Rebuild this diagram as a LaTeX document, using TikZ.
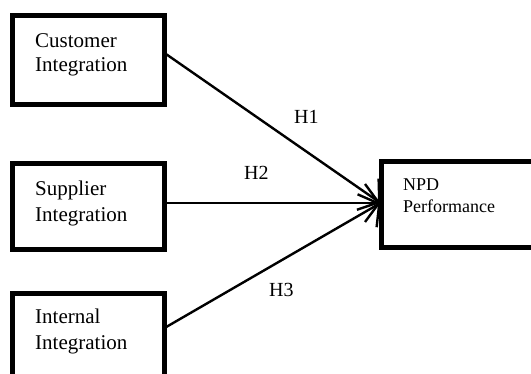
\documentclass[tikz,border=0pt]{standalone}
\usepackage{fontspec}
\setmainfont{Liberation Serif}
\usetikzlibrary{arrows.meta}
\begin{document}
\begin{tikzpicture}[x=1pt,y=-1pt,
  box/.style={draw=black,line width=5pt,rectangle,inner sep=0pt,outer sep=0pt},
  txt/.style={anchor=base west,align=left,inner sep=0pt},
  conn/.style={line width=2.4pt,-{Straight Barb[length=14pt,width=38pt,line width=2.4pt]}},
  hlab/.style={anchor=base west,inner sep=0pt,font=\fontsize{20}{24}\selectfont}]
\useasboundingbox (0,0) rectangle (531,374);
\clip (0,0) rectangle (531,374);
\fill[white] (0,0) rectangle (531,374);
% boxes (centre of border line)
\node[box,minimum width=152pt,minimum height=89pt] (c1) at (88.5,60) {};
\node[box,minimum width=152pt,minimum height=86pt] (c2) at (88.5,206.5) {};
\node[box,minimum width=152pt,minimum height=89pt] (c3) at (88.5,338) {};
\node[box,minimum width=180pt,minimum height=86pt] (npd) at (471.5,204.5) {};
% texts (anchor at baseline of the last line)
\node[txt,font=\fontsize{21}{23.5}\selectfont] (t1) at (35,71.5) {Customer\\Integration};
\node[txt,font=\fontsize{21}{25.5}\selectfont] (t2) at (35,221.5) {Supplier\\Integration};
\node[txt,font=\fontsize{21}{26.5}\selectfont] (t3) at (35,350) {Internal\\Integration};
\node[txt,font=\fontsize{18}{21.5}\selectfont] (t4) at (403,212.5) {NPD\\Performance};
% connectors
\coordinate (tip) at ([xshift=-1pt,yshift=1.5pt]npd.west);
\draw[conn] ([yshift=7pt]c1.east) -- (tip);
\draw[conn] ([yshift=3.5pt]c2.east) -- (tip);
\draw[conn] ([yshift=10pt]c3.east) -- (tip);
% labels
\node[hlab] (h1) at (294,124) {H1};
\node[hlab] (h2) at (244,180) {H2};
\node[hlab] (h3) at (269,297) {H3};
\end{tikzpicture}
\end{document}
